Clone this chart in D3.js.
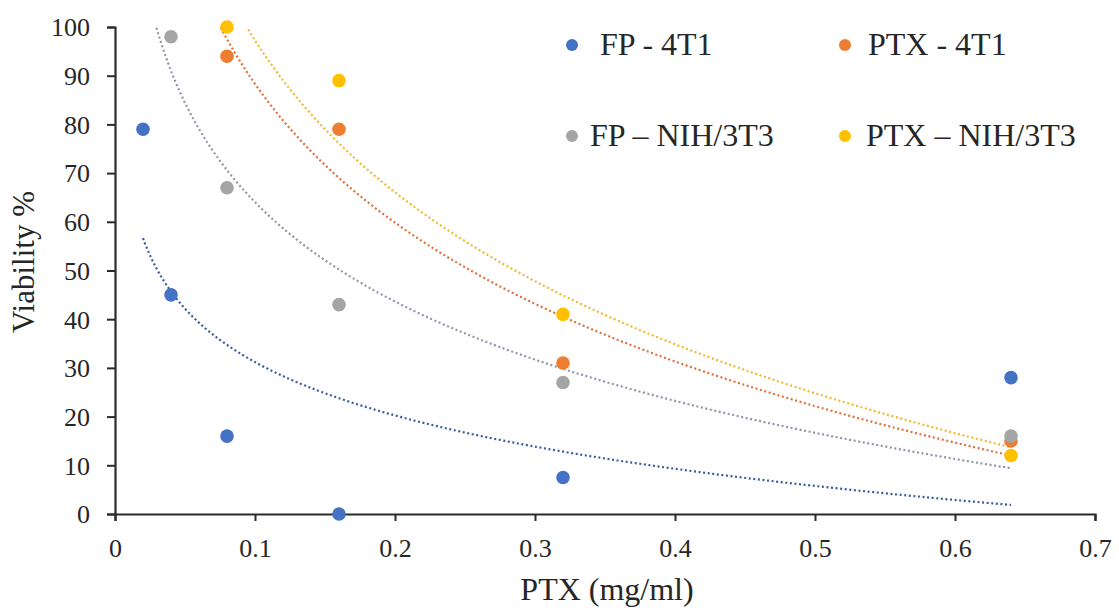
<!DOCTYPE html>
<html>
<head>
<meta charset="utf-8">
<script src="https://cdn.jsdelivr.net/npm/d3@7"></script>
<style>
html,body{margin:0;padding:0;background:#fff;}
svg{display:block;font-family:"Liberation Serif","Times New Roman",serif;}
</style>
</head>
<body>
<svg id="chart" width="1119" height="608"></svg>
<script>
// Data
const seriesNames = ["FP - 4T1", "PTX - 4T1", "FP \u2013 NIH/3T3", "PTX \u2013 NIH/3T3"];
const seriesColors = ["#4472C4", "#ED7D31", "#A5A5A5", "#FFC000"];
const lineColors = ["#3A5BA0", "#E0703A", "#8E96A8", "#F2B830"];
const fp4t1X = [0.02, 0.04, 0.08, 0.16, 0.32, 0.64];
const fp4t1Y = [79, 45, 16, 0, 7.5, 28];
const ptx4t1X = [0.08, 0.16, 0.32, 0.64];
const ptx4t1Y = [94, 79, 31, 15];
const fpNihX = [0.04, 0.08, 0.16, 0.32, 0.64];
const fpNihY = [98, 67, 43, 27, 16];
const ptxNihX = [0.08, 0.16, 0.32, 0.64];
const ptxNihY = [100, 89, 41, 12];
const xTicks = [0, 0.1, 0.2, 0.3, 0.4, 0.5, 0.6, 0.7];
const yTicks = [0, 10, 20, 30, 40, 50, 60, 70, 80, 90, 100];

const series = [
  {name: seriesNames[0], xs: fp4t1X, ys: fp4t1Y},
  {name: seriesNames[1], xs: ptx4t1X, ys: ptx4t1Y},
  {name: seriesNames[2], xs: fpNihX, ys: fpNihY},
  {name: seriesNames[3], xs: ptxNihX, ys: ptxNihY}
];

const svg = d3.select("#chart");
const x = d3.scaleLinear().domain([0, 0.7]).range([115, 1095]);
const y = d3.scaleLinear().domain([0, 100]).range([514, 27]);

// Axes
const axisColor = "#2b2b2b";
const yAxis = svg.append("g").attr("transform", "translate(115,0)")
  .call(d3.axisLeft(y).tickValues(yTicks).tickSize(8).tickPadding(17).tickFormat(d3.format("d")));
const xAxis = svg.append("g").attr("transform", "translate(0,514)")
  .call(d3.axisBottom(x).tickValues(xTicks).tickSize(7).tickPadding(18).tickFormat(d => d === 0 ? "0" : d3.format(".1f")(d)));
[xAxis, yAxis].forEach(g => {
  g.select(".domain").attr("stroke", axisColor).attr("stroke-width", 2.2);
  g.selectAll(".tick line").attr("stroke", axisColor).attr("stroke-width", 2);
  g.selectAll(".tick text").attr("fill", "#262626").style("font-size", "26px").style("font-family", "Liberation Serif, serif");
});
yAxis.selectAll(".tick text").attr("dy", "0.34em");
xAxis.selectAll(".tick text").attr("dy", "0.71em");

// Axis titles
svg.append("text").attr("x", 607).attr("y", 600).attr("text-anchor", "middle")
  .style("font-size", "32px").attr("fill", "#262626").text("PTX (mg/ml)");
svg.append("text").attr("transform", "translate(34,262) rotate(-90)").attr("text-anchor", "middle")
  .style("font-size", "31px").attr("fill", "#262626").text("Viability %");

// Logarithmic trendlines (least squares on ln x), spanning the data x-range, clipped to axis max
function logFit(xs, ys) {
  const lx = xs.map(Math.log);
  const mx = d3.mean(lx), my = d3.mean(ys);
  let sxy = 0, sxx = 0;
  lx.forEach((v, i) => { sxy += (v - mx) * (ys[i] - my); sxx += (v - mx) * (v - mx); });
  const b = sxy / sxx, a = my - b * mx;
  return v => a + b * Math.log(v);
}
svg.append("defs").append("clipPath").attr("id", "plotclip")
  .append("rect").attr("x", 115).attr("y", y(100)).attr("width", 980).attr("height", y(0) - y(100));

const allX = [].concat(...series.map(s => s.xs));
const gx0 = d3.min(allX), gx1 = d3.max(allX);
const trend = svg.append("g").attr("clip-path", "url(#plotclip)");
series.forEach((s, i) => {
  const f = logFit(s.xs, s.ys);
  const pts = d3.range(0, 301).map(k => {
    const xv = Math.exp(Math.log(gx0) + (Math.log(gx1) - Math.log(gx0)) * k / 300);
    return [xv, f(xv)];
  }).filter(d => d[1] <= 100);
  trend.append("path")
    .attr("d", d3.line().x(d => x(d[0])).y(d => y(d[1]))(pts))
    .attr("fill", "none").attr("stroke", lineColors[i]).attr("stroke-width", 2.2)
    .attr("stroke-dasharray", "2,2.6");
});

// Points
series.forEach((s, i) => {
  svg.append("g").selectAll("circle").data(s.xs.map((v, k) => [v, s.ys[k]])).join("circle")
    .attr("cx", d => x(d[0])).attr("cy", d => y(d[1])).attr("r", 6.8)
    .attr("fill", seriesColors[i]);
});

// Legend
const legPos = [[572, 45], [845, 45], [572, 136], [845, 136]];
const legTextX = [600, 868, 590, 866];
series.forEach((s, i) => {
  svg.append("circle").attr("cx", legPos[i][0]).attr("cy", legPos[i][1]).attr("r", 6)
    .attr("fill", seriesColors[i]);
  svg.append("text").attr("x", legTextX[i]).attr("y", legPos[i][1] + 10)
    .style("font-size", "32px").attr("fill", "#262626").text(s.name);
});
</script>
</body>
</html>
